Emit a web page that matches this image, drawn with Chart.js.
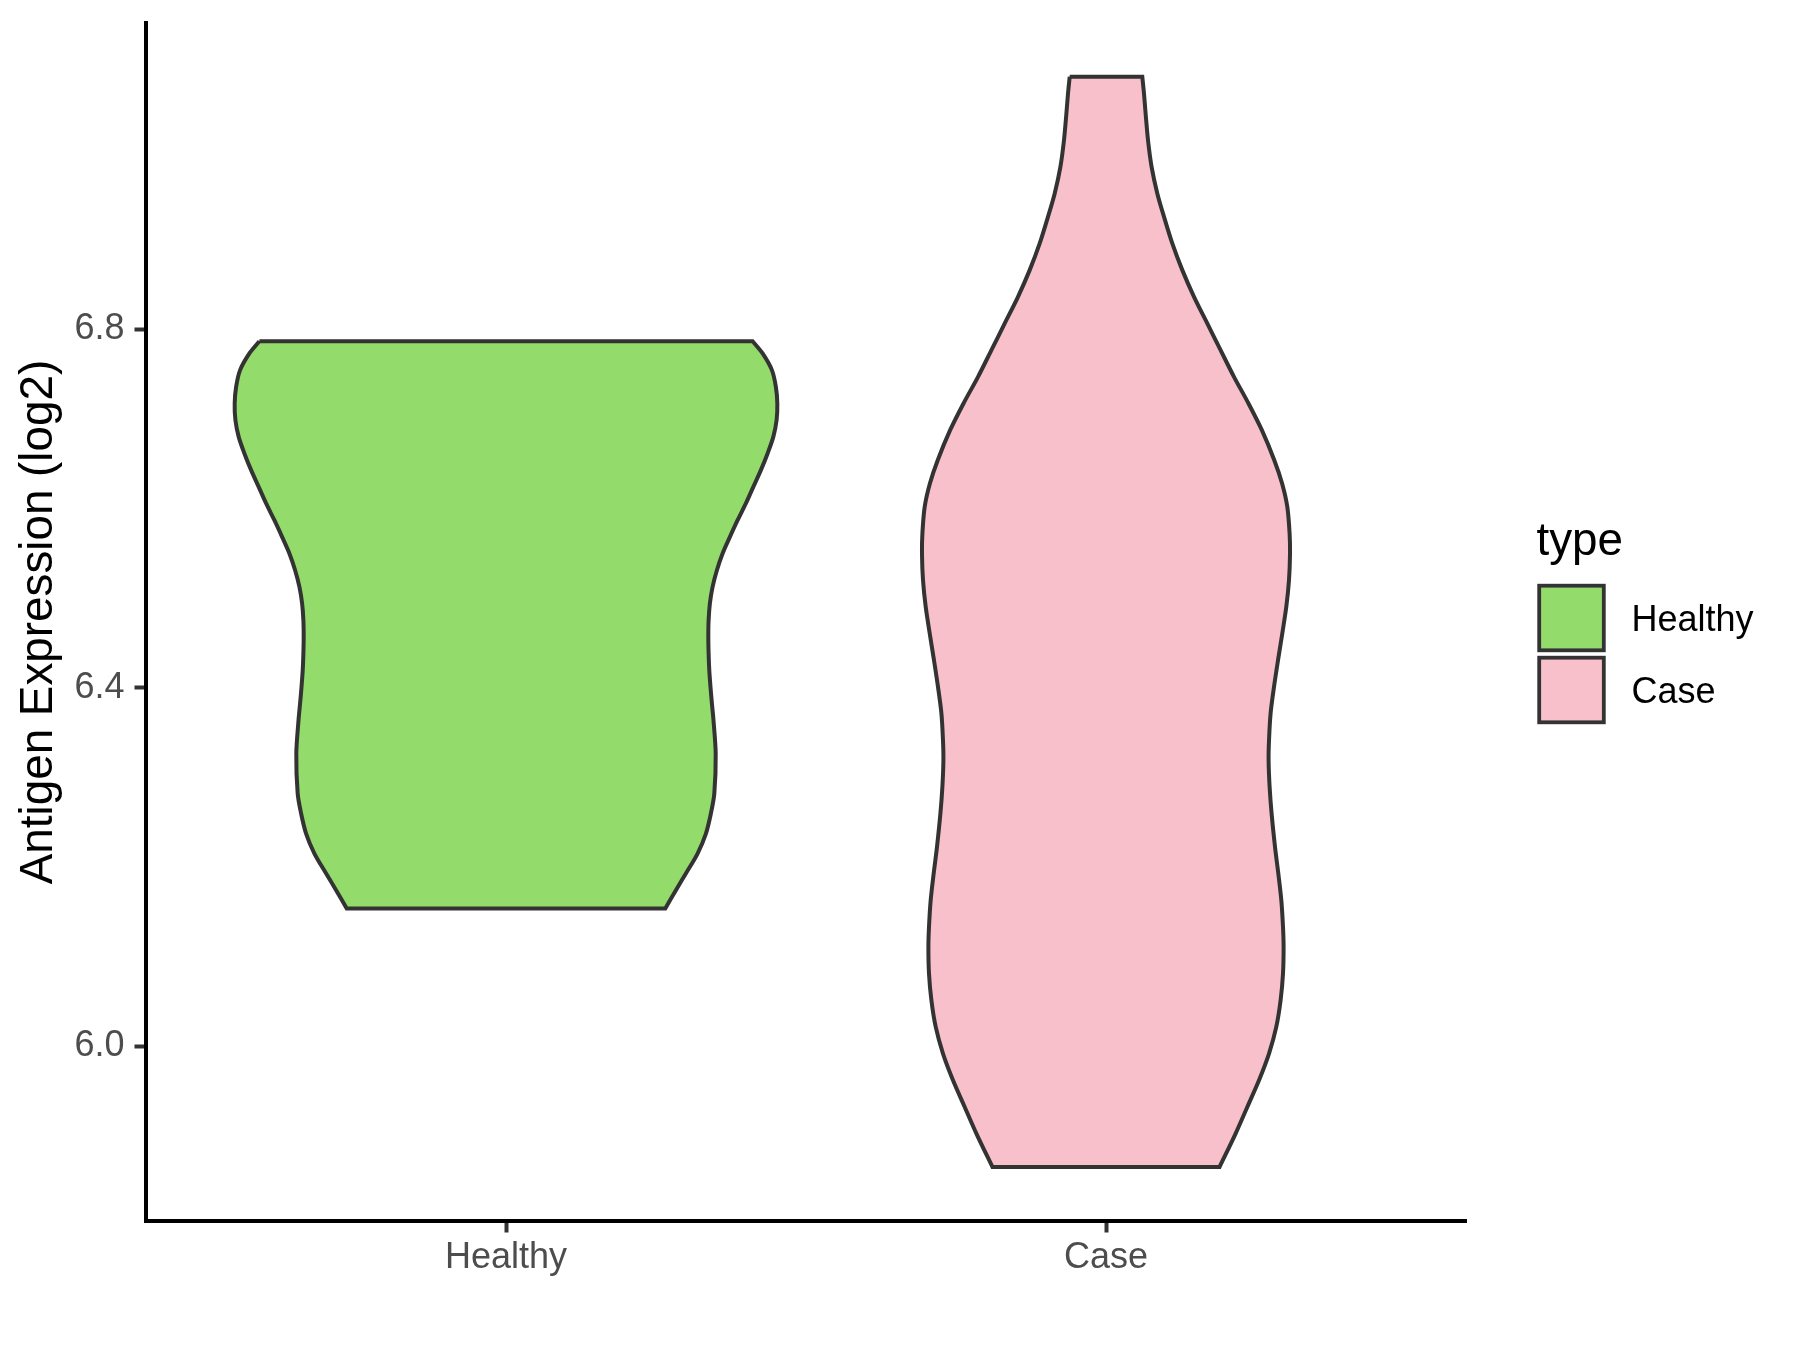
<!DOCTYPE html>
<html>
<head>
<meta charset="utf-8">
<script src="https://cdn.jsdelivr.net/npm/chart.js@4.4.1/dist/chart.umd.min.js"></script>
<style>
html,body{margin:0;padding:0;background:#ffffff;}
canvas{display:block;}
</style>
</head>
<body>
<canvas id="c" width="1800" height="1350" style="width:1800px;height:1350px"></canvas>
<script>
// ---- data ----
const categories = ['Healthy', 'Case'];
const seriesLabels = ['Healthy', 'Case'];
const legendTitle = 'type';
const yAxisTitle = 'Antigen Expression (log2)';
const yTickValues = [6.0, 6.4, 6.8];

// violin outline: expression values (log2) and density half-widths (x-axis units)
const healthyValues = [6.7869, 6.7732, 6.7546, 6.7359, 6.7174, 6.6988, 6.6801, 6.6616, 6.6430, 6.6243,
  6.6058, 6.5871, 6.5685, 6.5500, 6.5313, 6.5127, 6.4942, 6.4755, 6.4569, 6.4384, 6.4197, 6.4011,
  6.3825, 6.3639, 6.3267, 6.2821, 6.2598, 6.2374, 6.2151, 6.1928, 6.1742, 6.1537];
const healthyHalfWidths = [0.4110, 0.4277, 0.4432, 0.4498, 0.4522, 0.4510, 0.4455, 0.4360, 0.4248, 0.4122,
  0.3998, 0.3860, 0.3732, 0.3610, 0.3515, 0.3443, 0.3398, 0.3377, 0.3372, 0.3377, 0.3388, 0.3408,
  0.3432, 0.3458, 0.3495, 0.3472, 0.3415, 0.3332, 0.3193, 0.2998, 0.2832, 0.2655];

const caseValues = [7.0820, 7.0634, 7.0411, 7.0113, 6.9815, 6.9518, 6.9257, 6.8960, 6.8662, 6.8364,
  6.8067, 6.7769, 6.7471, 6.7174, 6.6876, 6.6541, 6.6281, 6.6020, 6.5723, 6.5500, 6.5202, 6.4904,
  6.4607, 6.4309, 6.4011, 6.3714, 6.3416, 6.3193, 6.2895, 6.2598, 6.2225, 6.1928, 6.1630, 6.1332,
  6.1109, 6.0812, 6.0514, 6.0216, 5.9919, 5.9621, 5.9323, 5.9026, 5.8653];
const caseHalfWidths = [0.0605, 0.0633, 0.0660, 0.0700, 0.0760, 0.0855, 0.0967, 0.1105, 0.1272, 0.1467,
  0.1688, 0.1910, 0.2133, 0.2375, 0.2598, 0.2805, 0.2935, 0.3022, 0.3060, 0.3067, 0.3050, 0.3005,
  0.2938, 0.2867, 0.2800, 0.2743, 0.2717, 0.2710, 0.2727, 0.2760, 0.2817, 0.2872, 0.2922, 0.2950,
  0.2960, 0.2950, 0.2910, 0.2838, 0.2717, 0.2550, 0.2355, 0.2160, 0.1893];

// ---- styles ----
const FONT = 'Liberation Sans';
const fillColors = ['#93DB6B', '#F8C0CB'];
const outlineColor = '#333333';

// closed outline: down the left side, across the bottom, up the right side, across the top
function violinOutline(center, values, halfWidths) {
  const left = values.map((v, i) => ({x: center - halfWidths[i], y: v}));
  const right = values.map((v, i) => ({x: center + halfWidths[i], y: v})).reverse();
  const n = left.length;
  const pts = [];
  left.forEach(p => pts.push({...p}));
  pts.push({...left[n - 1]});          // repeated corner -> sharp corner, straight edge
  pts.push({...right[0]});
  pts.push({...right[0]});
  right.slice(1).forEach(p => pts.push({...p}));
  pts.push({...right[n - 1]});
  pts.push({...left[0]});
  return pts;
}

const violins = [
  {values: healthyValues, halfWidths: healthyHalfWidths},
  {values: caseValues, halfWidths: caseHalfWidths}
];

const datasets = violins.map((v, i) => ({
  label: seriesLabels[i],
  data: violinOutline(i + 1, v.values, v.halfWidths),
  backgroundColor: fillColors[i],
  borderColor: outlineColor,
  borderWidth: 4,
  fill: 'shape',
  tension: 0.3,
  pointRadius: 0,
  pointHoverRadius: 0,
  clip: false
}));

const legendPlugin = {
  id: 'ggLegend',
  afterDraw(chart) {
    const ctx = chart.ctx;
    const x0 = 1535.5, cellTop = 582, cell = 72, lw = 3.8;
    ctx.save();
    ctx.fillStyle = '#000000';
    ctx.textAlign = 'left';
    ctx.textBaseline = 'alphabetic';
    ctx.font = '45.8px "' + FONT + '"';
    ctx.fillText(legendTitle, x0 + 1, 555);
    chart.data.datasets.forEach((ds, i) => {
      const top = cellTop + i * cell;
      const ins = lw / 2 + 1.8;
      ctx.fillStyle = ds.backgroundColor;
      ctx.fillRect(x0 + ins, top + ins, cell - 2 * ins, cell - 2 * ins);
      ctx.strokeStyle = ds.borderColor;
      ctx.lineWidth = lw;
      ctx.strokeRect(x0 + ins, top + ins, cell - 2 * ins, cell - 2 * ins);
      ctx.fillStyle = '#000000';
      ctx.font = '36px "' + FONT + '"';
      ctx.fillText(ds.label, 1631.5, top + cell / 2 + 13);
    });
    ctx.restore();
  }
};

new Chart(document.getElementById('c'), {
  type: 'line',
  data: {datasets},
  plugins: [legendPlugin],
  options: {
    responsive: false,
    animation: false,
    devicePixelRatio: 1,
    events: [],
    layout: {padding: {left: 0, top: 23, right: 334, bottom: 0}},
    plugins: {legend: {display: false}, tooltip: {enabled: false}},
    scales: {
      x: {
        type: 'linear',
        min: 0.4,
        max: 2.6,
        afterBuildTicks: s => { s.ticks = categories.map((c, i) => ({value: i + 1})); },
        afterFit: s => { s.height = 129; s.paddingLeft = 0; s.paddingRight = 0; },
        ticks: {
          callback: v => categories[Math.round(v) - 1],
          font: {family: FONT, size: 36},
          color: '#4D4D4D',
          padding: 4,
          autoSkip: false,
          maxRotation: 0,
          minRotation: 0
        },
        grid: {display: true, drawOnChartArea: false, drawTicks: true, tickLength: 11.5, tickColor: '#333333', tickWidth: 4},
        border: {display: true, color: '#000000', width: 4}
      },
      y: {
        type: 'linear',
        min: 5.805,
        max: 7.142,
        afterBuildTicks: s => { s.ticks = yTickValues.map(v => ({value: v})); },
        afterFit: s => { s.width = 146; s.paddingTop = 0; s.paddingBottom = 0; },
        ticks: {
          callback: v => Number(v).toFixed(1),
          font: {family: FONT, size: 36},
          color: '#4D4D4D',
          padding: 10
        },
        grid: {display: true, drawOnChartArea: false, drawTicks: true, tickLength: 11.5, tickColor: '#333333', tickWidth: 4},
        border: {display: true, color: '#000000', width: 4},
        title: {
          display: true,
          text: yAxisTitle,
          font: {family: FONT, size: 45.8},
          color: '#000000',
          padding: {top: 12, bottom: 0}
        }
      }
    }
  }
});
</script>
</body>
</html>
